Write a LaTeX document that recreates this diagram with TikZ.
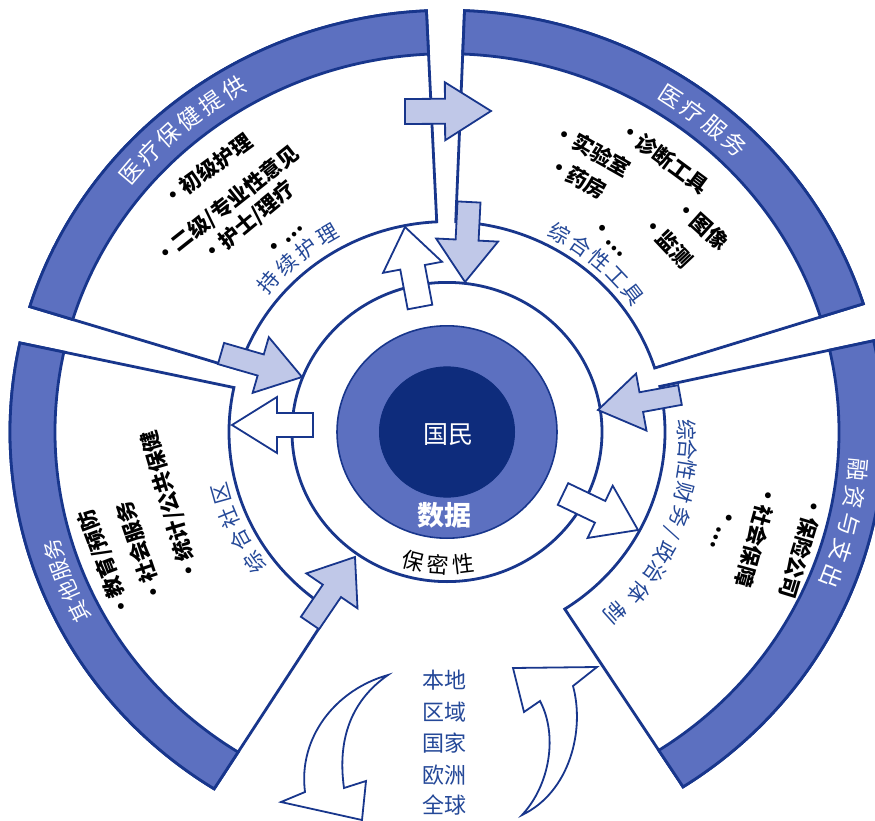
\documentclass[tikz,border=0pt]{standalone}
\usepackage{fontspec}
\setmainfont{Noto Sans CJK SC}
\usetikzlibrary{calc}

\definecolor{navy}{RGB}{24,54,140}
\definecolor{bandblue}{RGB}{92,112,192}
\definecolor{coreblue}{RGB}{14,44,124}
\definecolor{arrowblue}{RGB}{192,200,232}
\definecolor{txtblue}{RGB}{36,72,152}

\newcommand{\fsz}[1]{\fontsize{#1}{#1}\selectfont}

\tikzset{
  sectorshape/.style={draw=navy, line width=2.8pt, fill=white, line join=miter},
  bandshape/.style={draw=navy, line width=2.8pt, fill=bandblue, line join=miter},
  ringline/.style={draw=navy, line width=2.8pt},
  bluearrow/.style={draw=navy, line width=1.8pt, fill=arrowblue, line join=miter},
  whitearrow/.style={draw=navy, line width=1.8pt, fill=white, line join=miter},
  bandlabel/.style={text=white, font=\fsz{23}, inner sep=0pt},
  smallbandlabel/.style={text=white, font=\fsz{21}, inner sep=0pt},
  arclabel/.style={text=txtblue, font=\fsz{21}, inner sep=0pt},
  itemlabel/.style={text=black, font=\bfseries\fsz{21}, inner sep=0pt},
  corelabel/.style={text=white, font=\fsz{25}, inner sep=0pt},
  datalabel/.style={text=white, font=\bfseries\fsz{27}, inner sep=0pt},
  privlabel/.style={text=black, font=\fsz{22}, inner sep=0pt},
  levellabel/.style={text=txtblue, font=\fsz{22}, inner sep=0pt}
}

% annular sector with its outer band; angles clockwise in the picture
\newcommand{\sectorpair}[2]{%
  \filldraw[sectorshape] (#1:218 and 210.4) -- (#1:437 and 421.7)
     arc[start angle=#1, end angle=#2, x radius=437, y radius=421.7]
     -- (#2:218 and 210.4)
     arc[start angle=#2, end angle=#1, x radius=218, y radius=210.4] -- cycle;
  \filldraw[bandshape] (#1:392 and 378.3) -- (#1:437 and 421.7)
     arc[start angle=#1, end angle=#2, x radius=437, y radius=421.7]
     -- (#2:392 and 378.3)
     arc[start angle=#2, end angle=#1, x radius=392, y radius=378.3] -- cycle;
}

% characters set along an arc, read clockwise, tops outward
\newcommand{\cwchars}[6]{%
  \foreach \ch [count=\i from 0] in {#5} {
    \pgfmathsetmacro{\aa}{#2+#3*\i}
    \pgfmathsetmacro{\ry}{0.965*#4}
    \node[#1, rotate={-\aa-90}] (#6\i) at ({\aa}:{#4} and {\ry}) {\ch};
  }
}

% block arrow from start coordinate to tip coordinate
\newcommand{\blockarrow}[6]{%
  \coordinate (#2hb) at ($(#3)!#6pt!(#2)$);
  \draw[#1] ($(#2)!#4pt!90:(#3)$) -- ($(#2hb)!#4pt!-90:(#2)$)
    -- ($(#2hb)!#5pt!-90:(#2)$) -- (#3) -- ($(#2hb)!#5pt!90:(#2)$)
    -- ($(#2hb)!#4pt!90:(#2)$) -- ($(#2)!#4pt!-90:(#3)$) -- cycle;
}

\begin{document}
\begin{tikzpicture}[x=1pt,y=-1pt]
\clip (0,0) rectangle (875,821);
\fill[white] (0,0) rectangle (875,821);

\begin{scope}[shift={(447,432)}]
  \coordinate (C) at (0,0);
  % four sectors
  \sectorpair{197.3}{267.3}
  \sectorpair{272.3}{342.3}
  \sectorpair{-12.5}{57.3}
  \sectorpair{122.2}{192.2}
  % rings
  \filldraw[ringline, fill=white] (C) ellipse [x radius=155, y radius=149.6];
  \filldraw[draw=navy, line width=1.6pt, fill=bandblue] (C) ellipse [x radius=110, y radius=106.2];
  \filldraw[draw=coreblue, line width=1pt, fill=coreblue] (C) ellipse [x radius=67.5, y radius=65.1];
\end{scope}

% straight block arrows
\coordinate (a1s) at (405,111.5); \coordinate (a1t) at (491,111);
\coordinate (a2s) at (469,202);   \coordinate (a2t) at (465,282);
\coordinate (a3s) at (420,307);   \coordinate (a3t) at (405,227);
\coordinate (a4s) at (221,353.5); \coordinate (a4t) at (302,377);
\coordinate (a5s) at (313,425);   \coordinate (a5t) at (232,425);
\coordinate (a6s) at (680,395);   \coordinate (a6t) at (598,410);
\coordinate (a7s) at (563,494);   \coordinate (a7t) at (638,530);
\coordinate (a8s) at (310,623);   \coordinate (a8t) at (355,557);
\blockarrow{bluearrow}{a1s}{a1t}{12.5}{29}{46}
\blockarrow{bluearrow}{a2s}{a2t}{11.5}{31}{42}
\blockarrow{whitearrow}{a3s}{a3t}{12.5}{30}{41}
\blockarrow{bluearrow}{a4s}{a4t}{11}{29}{43}
\blockarrow{whitearrow}{a5s}{a5t}{12}{28}{45}
\blockarrow{bluearrow}{a6s}{a6t}{10}{29}{44}
\blockarrow{whitearrow}{a7s}{a7t}{12}{29}{42}
\blockarrow{bluearrow}{a8s}{a8t}{11}{31}{41}

% curved arrows at the bottom
\draw[whitearrow] (388,675) .. controls (335,690) and (298,738) .. (305,792)
   -- (281,802) -- (362,820) -- (366,781) -- (344,788)
   .. controls (337,738) and (352,700) .. (388,675) -- cycle;
\draw[whitearrow] (513,668) -- (597,667) -- (573,686)
   .. controls (585,730) and (570,792) .. (522,815)
   .. controls (550,785) and (558,735) .. (540,701) -- (524,712) -- cycle;

% labels on arcs
\begin{scope}[shift={(447,432)}]
  \cwchars{bandlabel}{220.4}{3.74}{415}{医,疗,保,健,提,供}{bandA}
  \cwchars{bandlabel}{302.8}{3.73}{414}{医,疗,服,务}{bandB}
  \cwchars{bandlabel}{5.5}{3.95}{413}{融,资,与,支,出}{bandC}
  \cwchars{smallbandlabel}{153.2}{3.2}{412}{其,他,服,务}{bandD}
  \cwchars{arclabel}{221.1}{6.23}{236.5}{持,续,护,理}{arcA}
  \cwchars{arclabel}{298.8}{5.95}{234.5}{综,合,性,工,具}{arcB}
  \cwchars{arclabel}{145}{6.43}{235}{综,合,社,区}{arcD}
  \foreach \aa/\rr/\ch [count=\i] in {-0.5/240/综, 4.4/241.7/合, 9.3/243/性,
      14.9/246/财, 20.7/249/务, 24.9/248/\slash, 29.9/251.5/政, 35.1/254/治,
      41.1/253.6/体, 48/251/制} {
    \pgfmathsetmacro{\ry}{0.965*\rr}
    \node[arclabel, rotate={-\aa-90}] (arcC\i) at ({\aa}:{\rr} and {\ry}) {\ch};
  }
  \foreach \aa/\ch [count=\i] in {104.1/保, 93.7/密, 83.3/性} {
    \node[privlabel, rotate={90-\aa}] (priv\i) at ({\aa}:138 and 133.2) {\ch};
  }
\end{scope}

% centre texts
\node[corelabel] (citizen) at (448,435) {国民};
\node[datalabel] (data) at (444,515) {数据};

% item lists
\node[itemlabel, rotate=36]   (tl1) at (207,170)   {•初级护理};
\node[itemlabel, rotate=38.4] (tl2) at (227,205) {•二级/专业性意见};
\node[itemlabel, rotate=39.5] (tl3) at (249,222)   {•护士/理疗};
\node[itemlabel, rotate=45]   (tl4) at (285,240)   {•…};

\node[itemlabel, rotate=-36.4] (tr1) at (664,157.5) {•诊断工具};
\node[itemlabel, rotate=-29.4] (tr2) at (592.5,150) {•实验室};
\node[itemlabel, rotate=-29]   (tr3) at (577.5,177.5) {•药房};
\node[itemlabel, rotate=-42]   (tr4) at (702,225)   {•图像};
\node[itemlabel, rotate=-46.6] (tr5) at (667.5,241.5) {•监测};
\node[itemlabel, rotate=-45]   (tr6) at (609,239)   {•…};

\node[itemlabel, rotate=-107]   (r1) at (802,547.5) {•保险公司};
\node[itemlabel, rotate=-105.5] (r2) at (757,536)     {•社会保障};
\node[itemlabel, rotate=-111]   (r3) at (722.5,528.5) {•…};

\node[itemlabel, rotate=110.8] (bl1) at (105.5,563.5) {•教育/预防};
\node[itemlabel, rotate=108.8] (bl2) at (140,552)     {•社会服务};
\node[itemlabel, rotate=106.5] (bl3) at (170.5,506)   {•统计/公共保健};

% levels
\node[levellabel] (lv1) at (444,680) {本地};
\node[levellabel] (lv2) at (444,712) {区域};
\node[levellabel] (lv3) at (444,743) {国家};
\node[levellabel] (lv4) at (444,775) {欧洲};
\node[levellabel] (lv5) at (444,805) {全球};
\end{tikzpicture}
\end{document}
